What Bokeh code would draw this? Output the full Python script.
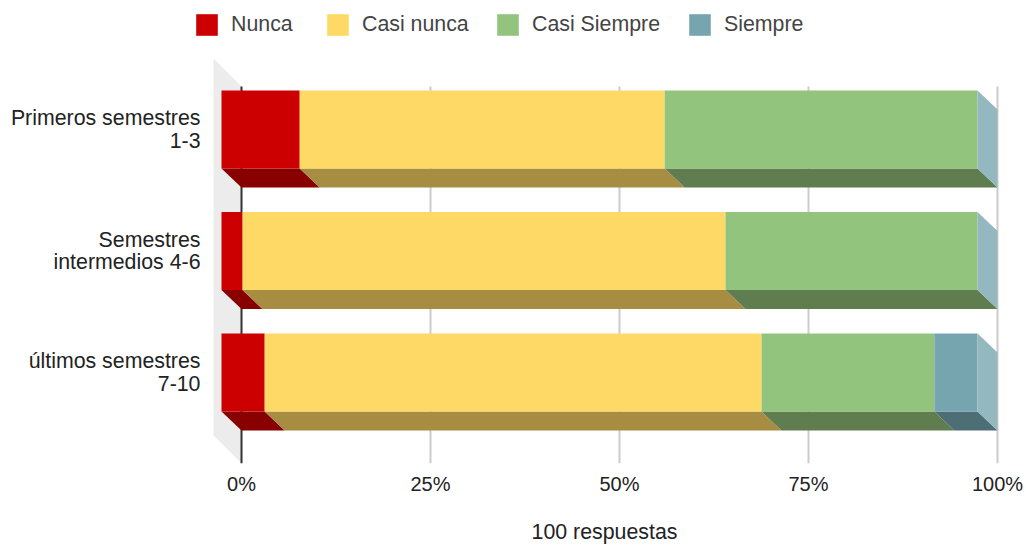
from bokeh.embed import file_html
from bokeh.resources import INLINE
from bokeh.plotting import figure
from bokeh.models import Range1d, FixedTicker, Legend, LegendItem, ColumnDataSource

# ---- data -------------------------------------------------------------
categories = ["Primeros semestres\n1-3", "Semestres\nintermedios 4-6", "últimos semestres\n7-10"]
series_names = ["Nunca", "Casi nunca", "Casi Siempre", "Siempre"]
nunca = [3, 1, 2]
casi_nunca = [14, 23, 23]
casi_siempre = [12, 12, 8]
siempre = [0, 0, 2]
x_ticks = [0, 25, 50, 75, 100]
x_title = "100 respuestas"

# ---- styles -------------------------------------------------------------
front_colors = ["#cc0000", "#ffd966", "#93c47d", "#76a5af"]
floor_colors = ["#880000", "#a68d42", "#5f7d4f", "#4e6e75"]
side_color = "#93b8bf"
wall_color = "#ececec"
FONT = "Liberation Sans"
FS = "21.33px"
FS_TICK = "20px"

# ---- pixel geometry of the plot -----------------------------------------
W, H = 1026, 546
F_L, F_R, F_T, F_B = 192, 1016, 0, 463      # frame edges on the page
X0, PX_PCT = 241.0, 7.56                    # 0% position and px per percent
Y0, PX_ROW = 129.0, 121.5                   # first row position and px per row
BAR_PX, DX_PX, DY_PX = 78, 20, 19           # bar height and 3-D shift
LEGEND_TEXT_X = [231, 362, 532, 724]        # where each legend label starts

dx = DX_PX / PX_PCT
dy = DY_PX / PX_ROW
half = BAR_PX / PX_ROW / 2
wall_dx = 28 / PX_PCT
wall_top = (58 - Y0) / PX_ROW
wall_bottom = (435 - Y0) / PX_ROW
wall_dy = 28 / PX_ROW

p = figure(
    width=W, height=H, output_backend="svg", toolbar_location=None,
    x_range=Range1d((F_L - X0) / PX_PCT, (F_R - X0) / PX_PCT),
    y_range=Range1d((F_B - Y0) / PX_ROW, (F_T - Y0) / PX_ROW),
    min_border_left=F_L, min_border_right=W - F_R,
    min_border_top=F_T, min_border_bottom=H - F_B,
    outline_line_color=None,
)
p.grid.visible = False

# back wall
p.patch([-wall_dx, 0, 0, -wall_dx],
        [wall_top, wall_top + wall_dy, wall_bottom + wall_dy, wall_bottom],
        fill_color=wall_color, line_color=None)

# grid lines
wall_top_y = wall_top + wall_dy
wall_bot_y = wall_bottom + wall_dy
p.segment(x_ticks, [wall_top_y] * 5, x_ticks, [wall_bot_y] * 5,
          line_color=["#333333" if t == 0 else "#cccccc" for t in x_ticks], line_width=2)

# bars
rows = list(range(len(categories)))
all_series = [nunca, casi_nunca, casi_siempre, siempre]
totals = [sum(s[i] for s in all_series) for i in rows]
left = [0.0] * len(rows)
items = []
for name, vals, fc, dc in zip(series_names, all_series, front_colors, floor_colors):
    pct = [100 * v / t for v, t in zip(vals, totals)]
    right = [a + b for a, b in zip(left, pct)]
    xs = [[a - dx, b - dx, b, a] for a, b in zip(left, right)]
    ys = [[r + half, r + half, r + half + dy, r + half + dy] for r in rows]
    p.patches(xs, ys, fill_color=dc, line_color=None)
    src = ColumnDataSource(dict(y=rows, left=[a - dx for a in left], right=[b - dx for b in right]))
    r_bar = p.hbar(y="y", left="left", right="right", height=2 * half, source=src,
                   fill_color=fc, line_color=None)
    items.append(LegendItem(label=name, renderers=[r_bar]))
    left = right

# right side faces
p.patches([[100 - dx, 100, 100, 100 - dx] for r in rows],
          [[r - half, r - half + dy, r + half + dy, r + half] for r in rows],
          fill_color=side_color, line_color=None)

# axes
xa = p.xaxis[0]
xa.ticker = FixedTicker(ticks=x_ticks)
xa.major_label_overrides = {t: f"{t}%" for t in x_ticks}
xa.axis_line_color = None
xa.major_tick_line_color = None
xa.minor_tick_line_color = None
xa.major_tick_out = 0
xa.major_label_standoff = 9
xa.major_label_text_font = FONT
xa.major_label_text_font_size = FS_TICK
xa.major_label_text_color = "#222222"
xa.axis_label = x_title
xa.axis_label_text_font = FONT
xa.axis_label_text_font_size = FS
xa.axis_label_text_font_style = "normal"
xa.axis_label_text_color = "#222222"
xa.axis_label_standoff = 22

ya = p.yaxis[0]
ya.ticker = FixedTicker(ticks=rows)
ya.major_label_overrides = {r: c for r, c in zip(rows, categories)}
ya.axis_line_color = None
ya.major_tick_line_color = None
ya.minor_tick_line_color = None
ya.major_tick_out = 0
ya.major_label_standoff = -8
ya.major_label_text_font = FONT
ya.major_label_text_font_size = FS
ya.major_label_text_color = "#222222"
ya.major_label_text_line_height = 0.92

# legend: one per item so each sits where the reference has it
GLYPH, STANDOFF = 27, 11
for item, tx in zip(items, LEGEND_TEXT_X):
    legend = Legend(items=[item], orientation="horizontal",
                    location=(tx - GLYPH - STANDOFF - F_L, F_B - 38),
                    glyph_width=GLYPH, glyph_height=GLYPH, label_standoff=STANDOFF, spacing=0,
                    padding=0, margin=0, border_line_color=None, background_fill_alpha=0,
                    label_text_font=FONT, label_text_font_size=FS, label_text_color="#444444")
    p.add_layout(legend, "center")

open("out.html", "w").write(file_html(p, INLINE))
